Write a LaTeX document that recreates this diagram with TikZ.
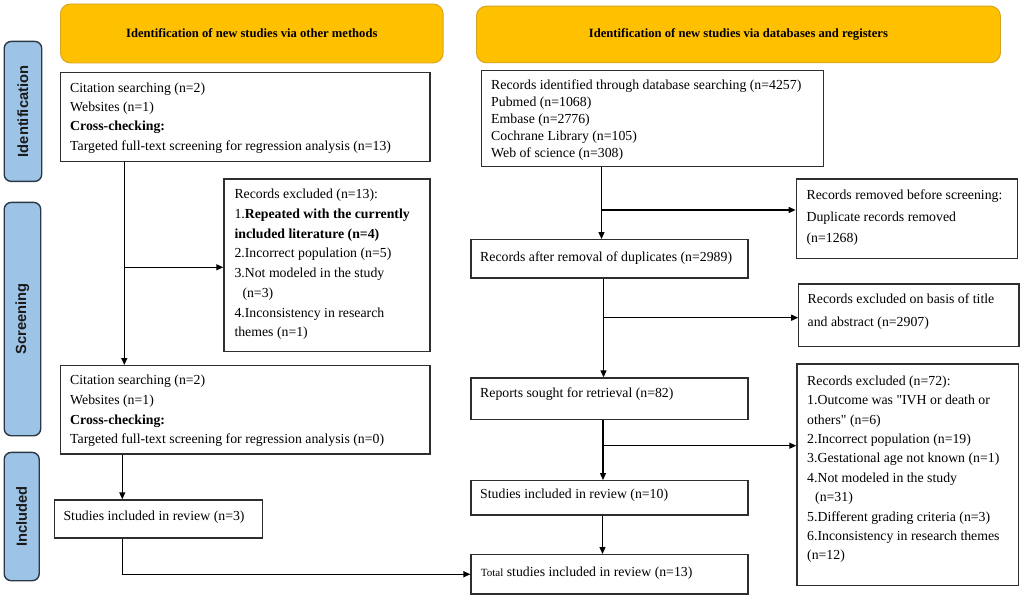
\documentclass[tikz,border=0pt]{standalone}
\usepackage{fontspec}
\setmainfont{Liberation Serif}
\newfontfamily\lsansfont{Liberation Sans}
\usetikzlibrary{arrows.meta}
\definecolor{hdrfill}{HTML}{FFC000}
\definecolor{hdrline}{HTML}{D4A21E}
\definecolor{barfill}{HTML}{9DC3E6}
\definecolor{barline}{HTML}{2B3846}
\definecolor{boxline}{HTML}{2E2E2E}
\definecolor{lbltext}{HTML}{1A1A1A}
\tikzset{
  hdr/.style={draw=hdrline, fill=hdrfill, rounded corners=10pt, line width=0.9pt,
    anchor=north west, inner sep=0pt, font=\fontsize{12.6}{15}\selectfont\bfseries},
  bar/.style={draw=barline, fill=barfill, rounded corners=7pt, line width=1.4pt,
    anchor=north west, inner sep=0pt},
  bartext/.style={rotate=90, inner sep=0pt, text=lbltext,
    font=\lsansfont\fontsize{14.7}{17}\selectfont\bfseries},
  box/.style={draw=boxline, line width=1.2pt, anchor=north west, inner sep=0pt},
  txt/.style={anchor=base west, inner sep=0pt, font=\fontsize{13.8}{#1}\selectfont},
  txt/.default=19.4,
  conn/.style={line width=1.2pt, draw=black},
  arr/.style={conn, -{Triangle[length=7pt,width=6pt]}},
}
\newcommand\pbtext[1]{\parbox[t]{360pt}{\raggedright #1}}
\begin{document}
\begin{tikzpicture}[x=1pt,y=-1pt]
\useasboundingbox (0,0) rectangle (1022,597);

% headers
\node[hdr, minimum width=382.7pt, minimum height=59pt] (hL) at (60,3.5)
  {Identification of new studies via other methods};
\node[hdr, minimum width=524pt, minimum height=56.6pt] (hR) at (476,5.7)
  {Identification of new studies via databases and registers};

% side bars
\node[bar, minimum width=37.5pt, minimum height=140pt] (bI) at (3.5,40.7) {};
\node[bartext] (bIt) at (bI.center) {Identification};
\node[bar, minimum width=36.5pt, minimum height=233.3pt] (bS) at (3.5,201.7) {};
\node[bartext] (bSt) at (bS.center) {Screening};
\node[bar, minimum width=35pt, minimum height=128.3pt] (bN) at (3.5,451.7) {};
\node[bartext] (bNt) at (bN.center) {Included};

% left column boxes
\node[box, minimum width=369.3pt, minimum height=88.8pt] (L1) at (60,71.7) {};
\node[txt=19.2] (L1t) at (70,92.5) {\pbtext{Citation searching (n=2)\\Websites (n=1)\\\textbf{Cross-checking:}\\Targeted full-text screening for regression analysis (n=13)}};

\node[box, minimum width=206pt, minimum height=172.4pt] (exL) at (223.3,178.3) {};
\node[txt=19.7] (exLt) at (234.3,198.8) {\pbtext{Records excluded (n=13):\\1.\textbf{Repeated with the currently}\\\textbf{included literature (n=4)}\\2.Incorrect population (n=5)\\3.Not modeled in the study\\\hspace*{8pt}(n=3)\\4.Inconsistency in research\\themes (n=1)}};

\node[box, minimum width=369.3pt, minimum height=88.3pt] (L2) at (60,365) {};
\node[txt=19.8] (L2t) at (70,384.5) {\pbtext{Citation searching (n=2)\\Websites (n=1)\\\textbf{Cross-checking:}\\Targeted full-text screening for regression analysis (n=0)}};

\node[box, minimum width=207.7pt, minimum height=38pt] (iL) at (54,499.3) {};
\node[txt] (iLt) at (63.3,520) {Studies included in review (n=3)};

% right column boxes
\node[box, minimum width=342.2pt, minimum height=95.7pt] (R1) at (480.8,70) {};
\node[txt=16.9] (R1t) at (491,89.5) {\pbtext{Records identified through database searching (n=4257)\\Pubmed (n=1068)\\Embase (n=2776)\\Cochrane Library (n=105)\\Web of science (n=308)}};

\node[box, minimum width=220.9pt, minimum height=79.4pt] (rem) at (795.6,178.3) {};
\node[txt=21.7] (remt) at (806.4,199.5) {\pbtext{Records removed before screening:\\Duplicate records removed\\(n=1268)}};

\node[box, minimum width=277pt, minimum height=38.3pt] (R2) at (470.3,239) {};
\node[txt] (R2t) at (480,261.8) {Records after removal of duplicates (n=2989)};

\node[box, minimum width=220.1pt, minimum height=62.4pt] (exT) at (798.2,283.3) {};
\node[txt=22.4] (exTt) at (807.5,303.8) {\pbtext{Records excluded on basis of title\\and abstract (n=2907)}};

\node[box, minimum width=276.9pt, minimum height=41.7pt] (R3) at (470.4,377.3) {};
\node[txt] (R3t) at (480,397.8) {Reports sought for retrieval (n=82)};

\node[box, minimum width=221.7pt, minimum height=221.7pt] (ex72) at (796.3,363.3) {};
\node[txt=19.4] (ex72t) at (807,385.2) {\pbtext{Records excluded (n=72):\\1.Outcome was \textquotedbl IVH or death or\\others\textquotedbl{} (n=6)\\2.Incorrect population (n=19)\\3.Gestational age not known (n=1)\\4.Not modeled in the study\\\hspace*{8pt}(n=31)\\5.Different grading criteria (n=3)\\6.Inconsistency in research themes\\(n=12)}};

\node[box, minimum width=276.9pt, minimum height=34.3pt] (R4) at (470.4,480) {};
\node[txt] (R4t) at (480,498.5) {Studies included in review (n=10)};

\node[box, minimum width=276.9pt, minimum height=39.3pt] (tot) at (470.4,554) {};
\node[txt] (tott) at (480.7,576) {{\fontsize{11}{13}\selectfont Total} studies included in review (n=13)};

% connector coordinates
\coordinate (cL1) at (124.3,0);
\coordinate (cL2) at (122.3,0);
\coordinate (jL1) at (124.3,267.3);
\coordinate (cR1) at (601.5,0);
\coordinate (jR1) at (601.5,210);
\coordinate (cR2) at (603.5,0);
\coordinate (jR2) at (603.5,317.7);
\coordinate (cR3) at (603,0);
\coordinate (jR3) at (603,445.7);
\coordinate (cR4) at (602.5,0);

% left connectors
\draw[arr] (cL1 |- L1.south) -- (cL1 |- L2.north);
\draw[arr] (jL1) -- (jL1 -| exL.west);
\draw[arr] (cL2 |- L2.south) -- (cL2 |- iL.north);
\draw[arr] (cL2 |- iL.south) |- (tot.west);

% right connectors
\draw[arr] (cR1 |- R1.south) -- (cR1 |- R2.north);
\draw[arr] (jR1) -- (jR1 -| rem.west);
\draw[arr] (cR2 |- R2.south) -- (cR2 |- R3.north);
\draw[arr] (jR2) -- (jR2 -| exT.west);
\draw[arr] (cR3 |- R3.south) -- (cR3 |- R4.north);
\draw[arr] (jR3) -- (jR3 -| ex72.west);
\draw[arr] (cR4 |- R4.south) -- (cR4 |- tot.north);
\end{tikzpicture}
\end{document}
